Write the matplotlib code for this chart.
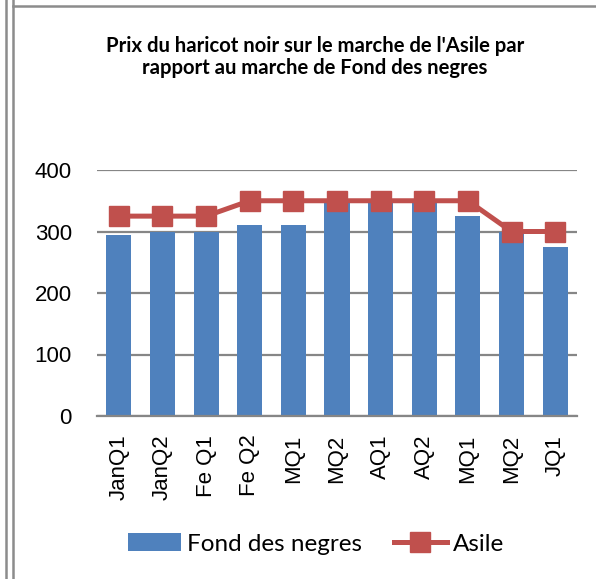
import matplotlib
matplotlib.use("Agg")
import matplotlib.pyplot as plt
from matplotlib.lines import Line2D
import numpy as np

categories = ["JanQ1", "JanQ2", "Fe Q1", "Fe Q2", "MQ1", "MQ2", "AQ1", "AQ2", "MQ1", "MQ2", "JQ1"]
fond_des_negres = [295, 300, 300, 310, 310, 350, 350, 350, 325, 300, 275]
asile = [325, 325, 325, 350, 350, 350, 350, 350, 350, 300, 300]
y_ticks = [0, 100, 200, 300, 400]
title = "Prix du haricot noir sur le marche de l'Asile par\nrapport au marche de Fond des negres"

W, H = 596, 579
fig = plt.figure(figsize=(W / 100, H / 100), dpi=100)
fig.patch.set_facecolor("white")

ax = fig.add_axes([97 / W, 1 - 416 / H, 480 / W, 246 / H])
x = np.arange(len(categories))

bars = ax.bar(x, fond_des_negres, width=0.573, color="#4F81BD", zorder=2, label="Fond des negres")
line, = ax.plot(x, asile, color="#C0504D", lw=3.6, marker="s", markersize=15,
                markerfacecolor="#C0504D", markeredgecolor="#C0504D", zorder=3, label="Asile")

ax.set_xlim(-0.5, len(categories) - 0.5)
ax.set_ylim(0, 400)
ax.set_yticks(y_ticks)
ax.set_yticklabels([str(v) for v in y_ticks], fontsize=16, family="Liberation Sans")
ax.set_xticks(x)
ax.set_xticklabels(categories, rotation=90, fontsize=16, family="Liberation Sans")
ax.tick_params(axis="both", length=0)
ax.tick_params(axis="y", pad=18)
ax.tick_params(axis="x", pad=13.5)
ax.yaxis.grid(True, color="#868686", lw=1.6, zorder=0)
ax.set_axisbelow(True)
for s in ["top", "right", "left"]:
    ax.spines[s].set_visible(False)
ax.spines["bottom"].set_color("#868686")
ax.spines["bottom"].set_linewidth(1.6)

fig.text(315 / W, 1 - 57 / H, title, ha="center", va="center", fontsize=14.6,
         fontweight="bold", family="Lato", linespacing=1.15)

leg = fig.legend(handles=[bars, line], labels=["Fond des negres", "Asile"],
                 loc="center", bbox_to_anchor=(316 / W, 1 - 544 / H), ncol=2, frameon=False,
                 prop={"family": "Lato", "size": 17.5}, handlelength=2.2, handleheight=0.74,
                 columnspacing=1.3, handletextpad=0.25, markerscale=0.95)

# border lines
for xx in [6, 13]:
    fig.add_artist(Line2D([xx / W, xx / W], [0, 1], transform=fig.transFigure, color="#8c8c8c", lw=1.8))
fig.add_artist(Line2D([13 / W, 1], [1 - 6 / H, 1 - 6 / H], transform=fig.transFigure, color="#8c8c8c", lw=1.8))

fig.savefig("out.png", dpi=100, facecolor="white")
